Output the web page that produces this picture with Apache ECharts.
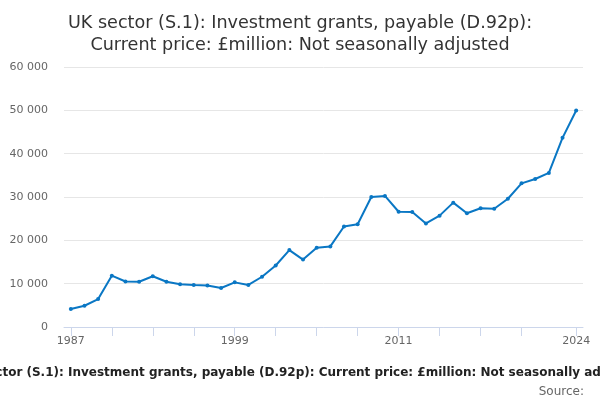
<!DOCTYPE html>
<html>
<head>
<meta charset="utf-8">
<script src="https://cdn.jsdelivr.net/npm/echarts@6/dist/echarts.min.js"></script>
<style>html,body{margin:0;padding:0;background:#fff}#c{width:600px;height:400px}</style>
</head>
<body>
<div id="c"></div>
<script>
const years = ['1987','1988','1989','1990','1991','1992','1993','1994','1995','1996','1997','1998','1999','2000','2001','2002','2003','2004','2005','2006','2007','2008','2009','2010','2011','2012','2013','2014','2015','2016','2017','2018','2019','2020','2021','2022','2023','2024'];
const values = [4150,4900,6450,11850,10500,10450,11700,10450,9850,9700,9600,9000,10300,9700,11600,14200,17750,15550,18300,18600,23200,23700,30000,30250,26600,26550,23900,25700,28700,26250,27400,27300,29600,33150,34150,35550,43650,49950];
const yTicks = {min: 0, max: 60000, interval: 10000};
const titleText = 'UK sector (S.1): Investment grants, payable (D.92p):\nCurrent price: £million: Not seasonally adjusted';
const footText = 'UK sector (S.1): Investment grants, payable (D.92p): Current price: £million: Not seasonally adjusted';
const sourceText = 'Source:';

const chart = echarts.init(document.getElementById('c'));
const last = years.length - 1;
chart.setOption({
  animation: false,
  textStyle: {fontFamily: 'DejaVu Sans'},
  title: [
    {text: titleText, left: 295, top: 7, textAlign: 'center',
     textStyle: {fontFamily: 'DejaVu Sans', fontSize: 17.6, fontWeight: 'normal', color: '#333', lineHeight: 22, align: 'center'}},
    {text: footText, left: 'center', top: 362,
     textStyle: {fontFamily: 'DejaVu Sans', fontSize: 12, fontWeight: 'bold', color: '#222'}},
    {text: sourceText, right: 11, top: 381,
     textStyle: {fontFamily: 'DejaVu Sans', fontSize: 12, fontWeight: 'normal', color: '#666'}}
  ],
  grid: {left: 64, right: 17, top: 67, bottom: 73, containLabel: false},
  xAxis: {
    type: 'category', data: years, boundaryGap: true,
    axisLine: {lineStyle: {color: '#ccd6eb'}},
    axisTick: {show: true, alignWithLabel: true, length: 9, lineStyle: {color: '#ccd6eb', width: 1},
      interval: (i) => (i % 3 === 0 && i < last - 1) || i === last},
    axisLabel: {color: '#666', fontSize: 11, margin: 9,
      interval: (i) => (i % 12 === 0 && i < last - 2) || i === last}
  },
  yAxis: {
    type: 'value', min: yTicks.min, max: yTicks.max, interval: yTicks.interval,
    axisLine: {show: false}, axisTick: {show: false},
    splitLine: {lineStyle: {color: '#e6e6e6'}},
    axisLabel: {color: '#666', fontSize: 11, margin: 16,
      formatter: (v) => String(v).replace(/\B(?=(\d{3})+(?!\d))/g, ' ')}
  },
  series: [{
    type: 'line', data: values, symbol: 'circle', symbolSize: 4,
    lineStyle: {color: '#0a77c4', width: 2},
    itemStyle: {color: '#0a77c4'}
  }]
});
</script>
</body>
</html>
